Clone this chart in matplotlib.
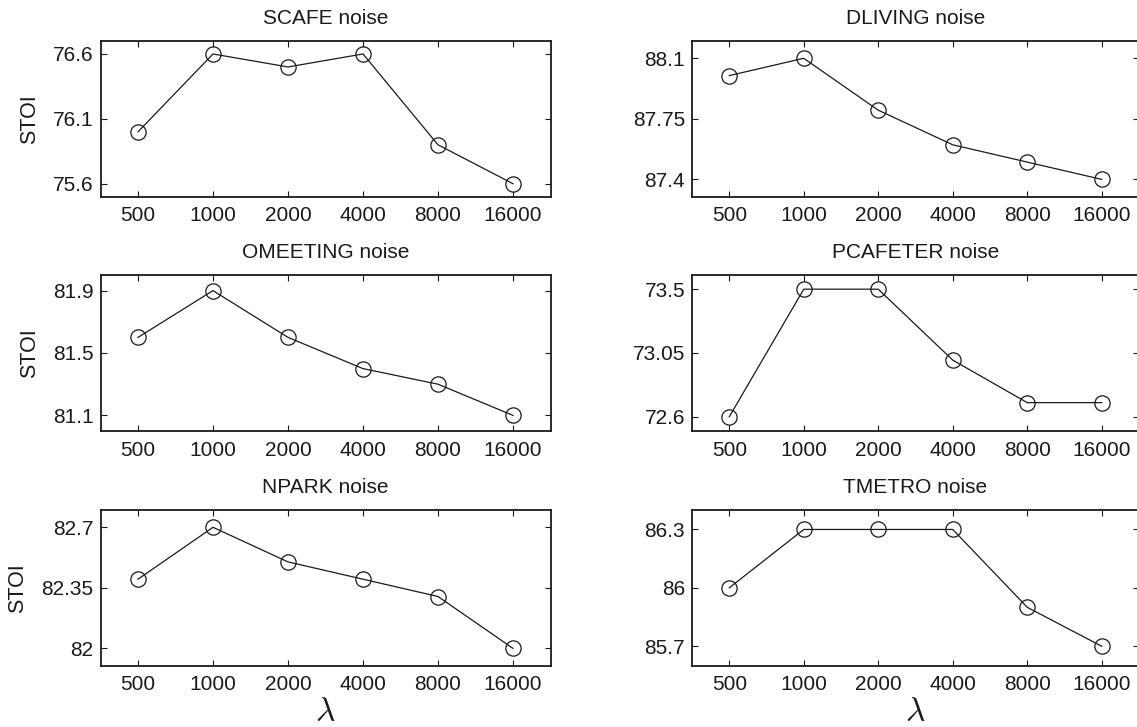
import matplotlib
matplotlib.use("Agg")
import matplotlib.pyplot as plt

plt.rcParams['font.family'] = ['Liberation Sans', 'DejaVu Sans']
plt.rcParams['mathtext.fontset'] = 'cm'

lambdas = ["500", "1000", "2000", "4000", "8000", "16000"]

titles = ["SCAFE noise", "DLIVING noise", "OMEETING noise",
          "PCAFETER noise", "NPARK noise", "TMETRO noise"]

scafe = [76.0, 76.6, 76.5, 76.6, 75.9, 75.6]
dliving = [88.0, 88.1, 87.8, 87.6, 87.5, 87.4]
omeeting = [81.6, 81.9, 81.6, 81.4, 81.3, 81.1]
pcafeter = [72.6, 73.5, 73.5, 73.0, 72.7, 72.7]
npark = [82.4, 82.7, 82.5, 82.4, 82.3, 82.0]
tmetro = [86.0, 86.3, 86.3, 86.3, 85.9, 85.7]

yticks_scafe = [75.6, 76.1, 76.6]
yticks_dliving = [87.4, 87.75, 88.1]
yticks_omeeting = [81.1, 81.5, 81.9]
yticks_pcafeter = [72.6, 73.05, 73.5]
yticks_npark = [82.0, 82.35, 82.7]
yticks_tmetro = [85.7, 86.0, 86.3]

ylabels_scafe = ["75.6", "76.1", "76.6"]
ylabels_dliving = ["87.4", "87.75", "88.1"]
ylabels_omeeting = ["81.1", "81.5", "81.9"]
ylabels_pcafeter = ["72.6", "73.05", "73.5"]
ylabels_npark = ["82", "82.35", "82.7"]
ylabels_tmetro = ["85.7", "86", "86.3"]

ylims = [(75.5, 76.7), (87.3, 88.2), (81.0, 82.0),
         (72.5, 73.6), (81.9, 82.8), (85.6, 86.4)]

series = [scafe, dliving, omeeting, pcafeter, npark, tmetro]
yticks_all = [yticks_scafe, yticks_dliving, yticks_omeeting,
              yticks_pcafeter, yticks_npark, yticks_tmetro]
ylabels_all = [ylabels_scafe, ylabels_dliving, ylabels_omeeting,
               ylabels_pcafeter, ylabels_npark, ylabels_tmetro]

W, H = 1137, 727
fig = plt.figure(figsize=(W / 100, H / 100), dpi=100)

col_x = [(100.5, 550.5), (692, 1139)]
row_y = [(41, 196.7), (275, 431), (510, 665.7)]
stoi_x = [40, 40, 28]

x = list(range(1, 7))
txtc = '#1a1a1a'
for i in range(6):
    r, c = divmod(i, 2)
    x0, x1 = col_x[c]
    y0, y1 = row_y[r]
    ax = fig.add_axes([x0 / W, 1 - y1 / H, (x1 - x0) / W, (y1 - y0) / H])
    ax.plot(x, series[i], color='#1a1a1a', lw=0.9, marker='o', ms=11,
            mfc='none', mec='#1a1a1a', mew=0.9)
    ax.set_xlim(0.5, 6.5)
    ax.set_ylim(*ylims[i])
    ax.set_xticks(x)
    ax.set_xticklabels(lambdas)
    ax.set_yticks(yticks_all[i])
    ax.set_yticklabels(ylabels_all[i])
    ax.tick_params(direction='in', length=4, width=0.8, top=True, right=True,
                   labelsize=15, colors=txtc)
    ax.tick_params(axis='x', pad=7)
    ax.tick_params(axis='y', pad=5)
    for s in ax.spines.values():
        s.set_linewidth(1.3)
        s.set_color('#1a1a1a')
    ax.set_title(titles[i], fontsize=15, color=txtc, pad=12)
    if c == 0:
        ax.set_ylabel("STOI", fontsize=15.5, color=txtc)
        ax.yaxis.set_label_coords((stoi_x[r] - x0) / (x1 - x0), 0.5)
    if r == 2:
        ax.set_xlabel(r'$\lambda$', fontsize=24, color=txtc, labelpad=2)

fig.savefig("out.png", dpi=100)
